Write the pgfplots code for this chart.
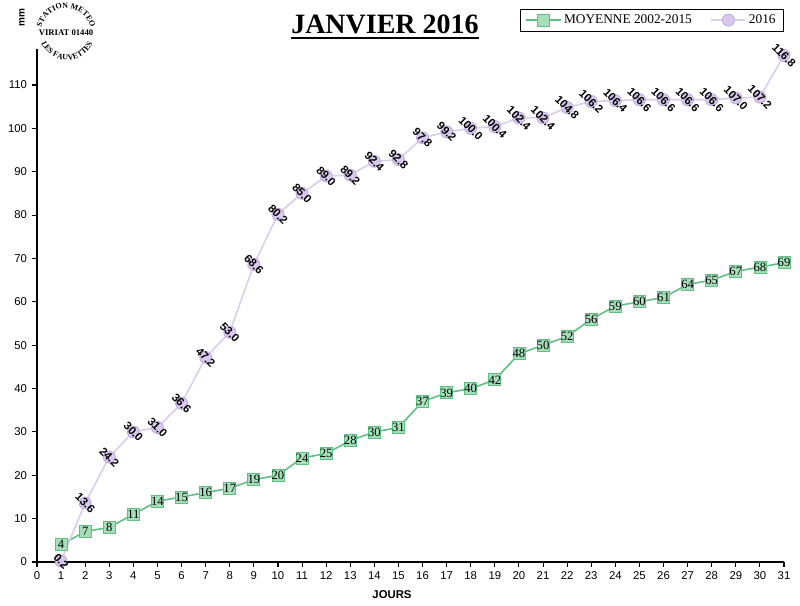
\documentclass[border=0pt]{standalone}
\usepackage{fontspec}
\setmainfont{Liberation Serif}
\setsansfont{Liberation Sans}
\usepackage{pgfplots}
\usepackage{pgfplotstable}
\pgfplotsset{compat=1.18}
\usetikzlibrary{decorations.text}

\definecolor{vertL}{RGB}{96,192,132}
\definecolor{vertF}{RGB}{165,222,185}
\definecolor{violL}{RGB}{218,206,236}
\definecolor{violF}{RGB}{216,200,236}
\definecolor{violB}{RGB}{188,168,218}

% jour, moyenne 2002-2015, cumul 2016
\pgfplotstableread{
jour moy an
1  4  0.2
2  7  13.6
3  8  24.2
4  11 30.0
5  14 31.0
6  15 36.6
7  16 47.2
8  17 53.0
9  19 68.6
10 20 80.2
11 24 85.0
12 25 89.0
13 28 89.2
14 30 92.4
15 31 92.8
16 37 97.8
17 39 99.2
18 40 100.0
19 42 100.4
20 48 102.4
21 50 102.4
22 52 104.8
23 56 106.2
24 59 106.4
25 60 106.6
26 61 106.6
27 64 106.6
28 65 106.6
29 67 107.0
30 68 107.2
31 69 116.8
}\donnees

\begin{document}
\begin{tikzpicture}
\path[use as bounding box] (0,0) rectangle (600pt,454.5pt);
\begin{axis}[
  at={(27.75pt,33pt)}, anchor=south west,
  scale only axis, width=560.25pt, height=384.75pt,
  axis x line=bottom, axis y line=left,
  axis line style={-, black, line width=0.8pt},
  xmin=0, xmax=31, ymin=0, ymax=118.3,
  xtick={0,...,31}, ytick={0,10,...,110},
  tick align=outside, major tick length=4pt,
  tick style={black, line width=0.8pt},
  tick label style={font=\sffamily\fontsize{8.5}{9}\selectfont},
  /pgf/number format/assume math mode=true,
  clip=false,
  legend columns=2,
  legend style={at={(rel axis cs:1.0,1.078)}, anchor=north east,
    draw=black, line width=0.6pt, font=\rmfamily\fontsize{10}{11}\selectfont,
    inner xsep=4pt,
    /tikz/every even column/.append style={column sep=12pt}},
  legend image code/.code={
    \draw[mark=none] (0cm,0cm) -- (0.9cm,0cm);
    \draw plot coordinates {(0.45cm,0cm)};},
  legend cell align=left,
]
\addplot[vertL, line width=1.2pt, mark=square*, mark size=4.5pt,
  mark options={fill=vertF, draw=vertL, line width=0.6pt},
  nodes near coords={\pgfmathprintnumber[fixed,precision=0]{\pgfplotspointmeta}},
  every node near coord/.append style={anchor=center, black,
    font=\rmfamily\fontsize{9.5}{10}\selectfont}]
  table[x=jour, y=moy] {\donnees};
\addlegendentry{MOYENNE 2002-2015}
\addplot[violL, line width=1.2pt, mark=*, mark size=4.5pt,
  mark options={fill=violF, draw=violB, line width=0.6pt},
  nodes near coords={\pgfmathprintnumber[fixed,fixed zerofill,precision=1]{\pgfplotspointmeta}},
  every node near coord/.append style={anchor=center, rotate=-45, black,
    font=\sffamily\bfseries\fontsize{8.5}{9}\selectfont}]
  table[x=jour, y=an] {\donnees};
\addlegendentry{2016}
\end{axis}

\begin{scope}[x=0.75pt, y=0.75pt]
% titre
\node[inner sep=0, anchor=base, font=\rmfamily\bfseries\fontsize{21}{22}\selectfont] (t) at (385,572) {JANVIER 2016};
\draw[line width=1.6pt] ([yshift=-3.2pt]t.base west) -- ([yshift=-3.2pt]t.base east);
% unites
\node[rotate=90, font=\sffamily\bfseries\fontsize{7.5}{8}\selectfont] at (22,588) {mm};
\node[font=\sffamily\bfseries\fontsize{8.5}{9}\selectfont] at (392,11) {JOURS};
% logo station
\path[decorate, decoration={text along path, text align=center,
  text={|\rmfamily\bfseries\fontsize{6}{7}\selectfont|STATION METEO}}]
  ([shift={(66,573)}]205:25) arc[start angle=205, end angle=-25, radius=25];
\node[font=\rmfamily\bfseries\fontsize{6.5}{7}\selectfont] at (66,573) {VIRIAT 01440};
\path[decorate, decoration={text along path, text align=center,
  text={|\rmfamily\bfseries\fontsize{6}{7}\selectfont|LES FAUVETTES}}]
  ([shift={(67,574)}]180:28) arc[start angle=180, end angle=360, radius=28];
\end{scope}
\end{tikzpicture}
\end{document}
